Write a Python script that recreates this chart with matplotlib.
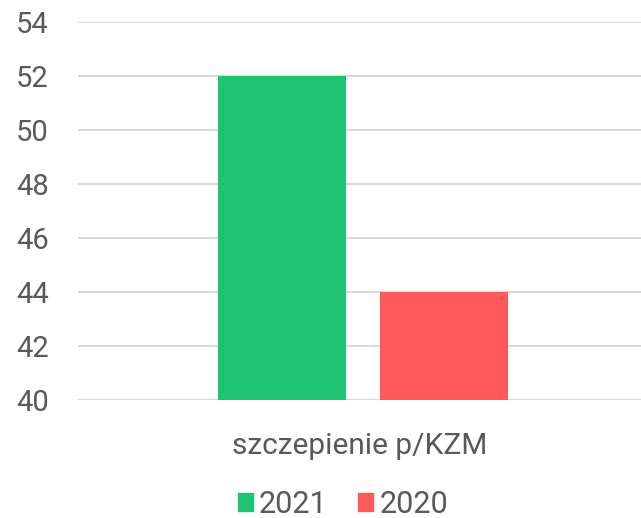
import matplotlib
matplotlib.use("Agg")
from matplotlib import pyplot as plt
from matplotlib.patches import Patch

categories = ["szczepienie p/KZM"]
series_names = ["2021", "2020"]
series_values = [[52], [44]]
series_colors = ["#1EC271", "#FF5A5A"]
y_ticks = [40, 42, 44, 46, 48, 50, 52, 54]

plt.rcParams['font.family'] = ['Roboto', 'DejaVu Sans']
text_color = "#595959"

fig = plt.figure(figsize=(6.41, 5.18), dpi=100)
ax = fig.add_axes([0.1217, 0.2278, 0.8783, 0.7297])

bar_w = 0.228
offsets = [-0.138, 0.150]
for i, name in enumerate(series_names):
    xs = [c + offsets[i] for c in range(len(categories))]
    ax.bar(xs, series_values[i], width=bar_w, bottom=0, color=series_colors[i],
           label=name, zorder=3)

ax.set_ylim(40, 54)
ax.set_xlim(-0.5, 0.5)
ax.set_yticks(y_ticks)
ax.set_yticklabels([str(t) for t in y_ticks], fontsize=21, color=text_color)
ax.set_xticks(range(len(categories)))
ax.set_xticklabels(categories, fontsize=21.5, color=text_color)
ax.tick_params(axis='y', length=0, pad=21)
ax.tick_params(axis='x', length=0, pad=23)
ax.yaxis.grid(True, color="#D9D9D9", linewidth=1.5, zorder=0)
ax.set_axisbelow(True)
for s in ax.spines.values():
    s.set_visible(False)

handles = [Patch(color=c, label=n) for n, c in zip(series_names, series_colors)]
leg = fig.legend(handles=handles, loc='lower center', bbox_to_anchor=(0.535, -0.055), ncol=2,
                 frameon=False, fontsize=22, handlelength=0.5, handleheight=0.5,
                 handletextpad=0.2, columnspacing=1.0)
for t in leg.get_texts():
    t.set_color(text_color)

fig.savefig("out.png", dpi=100)
